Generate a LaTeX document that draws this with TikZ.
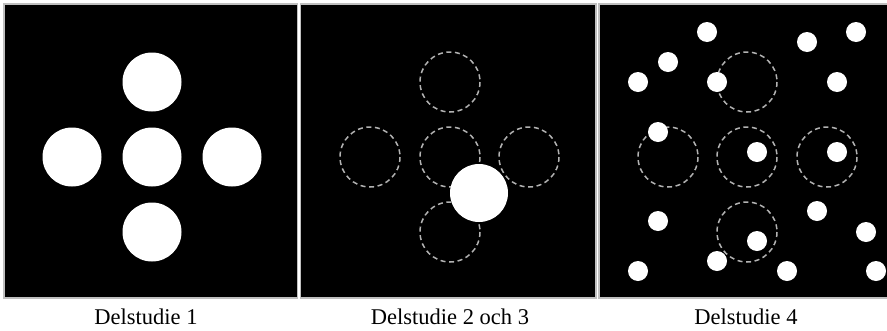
\documentclass[tikz,border=0pt]{standalone}
\usepackage{fontspec}
\setmainfont{Liberation Serif}
\begin{document}
\begin{tikzpicture}[x=1pt,y=-1pt,
  panel/.style={fill=black,draw=black!25,line width=1.4pt},
  bigdot/.style={fill=white},
  smalldot/.style={fill=white},
  ghost/.style={draw=black!30,line width=1.5pt,dash pattern=on 5pt off 3.6pt},
  caption/.style={font=\fontsize{22.5}{26}\selectfont,anchor=base}]
\useasboundingbox (0,0) rectangle (887,330);
\clip (0,0) rectangle (887,330);
% panels
\draw[panel] (4,4) rectangle (297.5,298);
\draw[panel] (300.5,4) rectangle (596,298);
\draw[panel] (599,4) rectangle (892,298);
% panel 1
\foreach \p in {(152,82),(72,157),(152,157),(232,157),(152,232)}
  \fill[bigdot] \p circle (29.5);
% panel 2
\foreach \p in {(450,82),(370,157),(450,157),(529,157),(450,232)}
  \draw[ghost] \p circle (30);
\fill[bigdot] (479,193) circle (29);
% panel 3
\foreach \p in {(747,82),(668,157),(747,157),(827,157),(747,232)}
  \draw[ghost] \p circle (30);
\foreach \p in {(707,32),(668,62),(638,82),(717,82),(807,42),(856,32),(837,82),
  (658,132),(757,152),(837,152),(658,221),(817,211),(866,232),(757,241),
  (717,261),(638,271),(787,271),(876,271)}
  \fill[smalldot] \p circle (10);
% captions
\node[caption] (c1) at (146,324) {Delstudie 1};
\node[caption] (c2) at (450,324) {Delstudie 2 och 3};
\node[caption] (c3) at (746,324) {Delstudie 4};
\end{tikzpicture}
\end{document}
